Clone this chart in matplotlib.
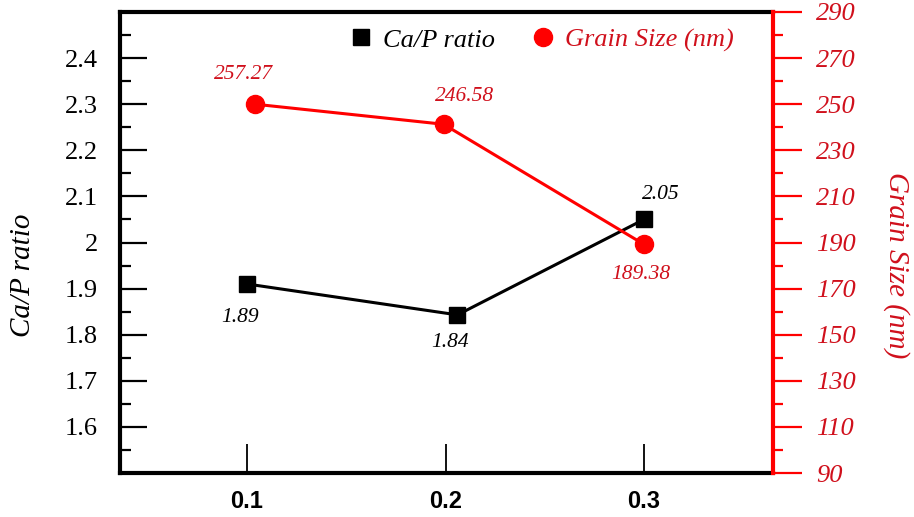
import numpy as np
import matplotlib.pyplot as plt
from matplotlib.ticker import MultipleLocator
from matplotlib.lines import Line2D

# data
x_labels = ['0.1', '0.2', '0.3']
x_ticks = [0.1, 0.2, 0.3]
x_ca = [0.1, 0.206, 0.3]
x_grain = [0.104, 0.199, 0.3]
ca_p = [1.91, 1.843, 2.05]
grain = [250.0, 241.3, 189.2]
ca_text = ['1.89', '1.84', '2.05']
grain_text = ['257.27', '246.58', '189.38']

red = '#ff0000'
red_txt = '#d0101c'
serif = ['Liberation Serif', 'DejaVu Serif']

fig = plt.figure(figsize=(9.14, 5.17), dpi=100)
ax = fig.add_axes([120/914, 1 - 473/517, (773 - 120)/914, (473 - 12)/517])
ax2 = ax.twinx()

ax.plot(x_ca, ca_p, color='black', lw=2.2, marker='s', ms=11.5, zorder=3)
ax2.plot(x_grain, grain, color=red, lw=2.2, marker='o', ms=13, zorder=3)

ax.set_xlim(0.036, 0.365)
ax.set_ylim(1.5, 2.5)
ax2.set_ylim(90, 290)

# left axis
ax.yaxis.set_major_locator(MultipleLocator(0.1))
ax.yaxis.set_minor_locator(MultipleLocator(0.05))
ax.tick_params(axis='y', which='major', direction='in', length=19.5, width=1.6, pad=16, labelsize=19)
ax.tick_params(axis='y', which='minor', direction='in', length=8, width=1.6)
ax.set_yticks(np.round(np.arange(1.6, 2.41, 0.1), 1))
ax.set_yticklabels(['1.6', '1.7', '1.8', '1.9', '2', '2.1', '2.2', '2.3', '2.4'], family=serif)

# x axis
ax.set_xticks(x_ticks)
ax.set_xticklabels(x_labels, family=['Liberation Sans Narrow', 'Liberation Sans'], fontweight='bold')
ax.tick_params(axis='x', direction='in', length=21, width=1.3, pad=12, labelsize=17)

# right axis
ax2.yaxis.set_major_locator(MultipleLocator(20))
ax2.yaxis.set_minor_locator(MultipleLocator(10))
ax2.set_yticks(np.arange(90, 291, 20))
ax2.set_yticklabels([str(v) for v in range(90, 291, 20)], family=serif, style='italic')
ax2.tick_params(axis='y', which='major', direction='out', length=21, width=1.6, pad=10,
                labelsize=19, colors=red, labelcolor=red_txt)
ax2.tick_params(axis='y', which='minor', direction='out', length=7, width=1.6, colors=red)

for s in ['left', 'top', 'bottom']:
    ax.spines[s].set_linewidth(3)
    ax2.spines[s].set_visible(False)
ax.spines['right'].set_visible(False)
ax2.spines['right'].set_color(red)
ax2.spines['right'].set_linewidth(3)

ax.set_ylabel('Ca/P ratio', family=serif, style='italic', fontsize=21)
ax.yaxis.set_label_coords(-0.129, 0.43)
ax2.set_ylabel('Grain Size (nm)', family=serif, style='italic', fontsize=21,
               color=red_txt, rotation=270, va='bottom')
ax2.yaxis.set_label_coords(1.168, 0.45)

# value labels
ca_off = [(-5, -24), (-5, -20), (12, 18)]
gr_off = [(-8.5, 21.5), (15, 20), (-2, -22)]
for xv, yv, t, o in zip(x_ca, ca_p, ca_text, ca_off):
    ax.annotate(t, (xv, yv), xytext=o, textcoords='offset points', ha='center', va='center',
                family=serif, style='italic', fontsize=15.5, color='black')
for xv, yv, t, o in zip(x_grain, grain, grain_text, gr_off):
    ax2.annotate(t, (xv, yv), xytext=o, textcoords='offset points', ha='center', va='center',
                 family=serif, style='italic', fontsize=15.5, color=red_txt)

handles = [Line2D([], [], ls='none', marker='s', ms=11, color='black'),
           Line2D([], [], ls='none', marker='o', ms=13, color=red)]
leg = fig.legend(handles, ['Ca/P ratio', 'Grain Size (nm)'], loc='center',
                 bbox_to_anchor=(542/914, 1 - 40/517), ncol=2, frameon=False,
                 handlelength=0.8, handletextpad=0.45, columnspacing=1.4,
                 prop={'family': serif, 'style': 'italic', 'size': 19})
leg.get_texts()[0].set_color('black')
leg.get_texts()[1].set_color(red_txt)

fig.savefig('out.png', dpi=100)
